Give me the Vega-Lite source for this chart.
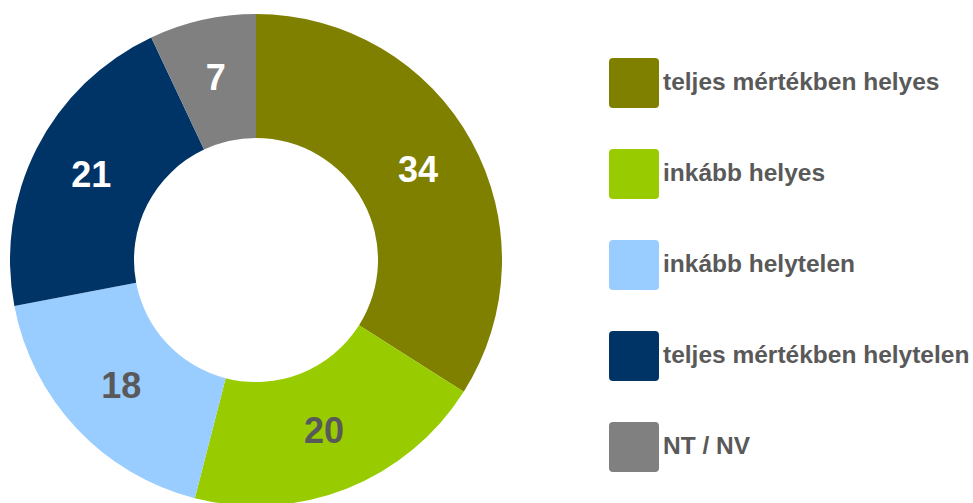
{
  "$schema": "https://vega.github.io/schema/vega-lite/v6.json",
  "width": 512,
  "height": 520,
  "padding": 0,
  "autosize": {"type": "pad"},
  "background": "white",
  "config": {"view": {"stroke": null}, "font": "Liberation Sans"},
  "data": {
    "values": [
      {"cat": "teljes mértékben helyes", "value": 34, "ord": 1},
      {"cat": "inkább helyes", "value": 20, "ord": 2},
      {"cat": "inkább helytelen", "value": 18, "ord": 3},
      {"cat": "teljes mértékben helytelen", "value": 21, "ord": 4},
      {"cat": "NT / NV", "value": 7, "ord": 5}
    ]
  },
  "encoding": {
    "theta": {"field": "value", "type": "quantitative", "stack": true},
    "order": {"field": "ord", "type": "quantitative"}
  },
  "layer": [
    {
      "mark": {"type": "arc", "radius": 246, "radius2": 122},
      "encoding": {
        "color": {
          "field": "cat",
          "type": "nominal",
          "scale": {
            "domain": ["teljes mértékben helyes", "inkább helyes", "inkább helytelen", "teljes mértékben helytelen", "NT / NV"],
            "range": ["#808000", "#99CC00", "#99CCFF", "#003366", "#808080"]
          },
          "legend": {
            "title": null,
            "orient": "none",
            "legendX": 609,
            "legendY": 58,
            "padding": 0,
            "symbolType": "M -0.84,-1 L 0.84,-1 Q 1,-1 1,-0.84 L 1,0.84 Q 1,1 0.84,1 L -0.84,1 Q -1,1 -1,0.84 L -1,-0.84 Q -1,-1 -0.84,-1 Z",
            "symbolSize": 2500,
            "symbolStrokeWidth": 0,
            "symbolOpacity": 1,
            "labelFont": "Liberation Sans",
            "labelFontSize": 24.5,
            "labelFontWeight": "bold",
            "labelColor": "#595959",
            "labelOffset": 4,
            "labelLimit": 400,
            "rowPadding": 41
          }
        }
      }
    },
    {
      "mark": {"type": "text", "radius": 185, "font": "Liberation Sans", "fontSize": 36, "fontWeight": "bold", "baseline": "middle", "align": "center"},
      "encoding": {
        "text": {"field": "value", "type": "quantitative"},
        "color": {
          "condition": {"test": "datum.cat === 'inkább helyes' || datum.cat === 'inkább helytelen'", "value": "#595959"},
          "value": "white"
        }
      }
    }
  ]
}
